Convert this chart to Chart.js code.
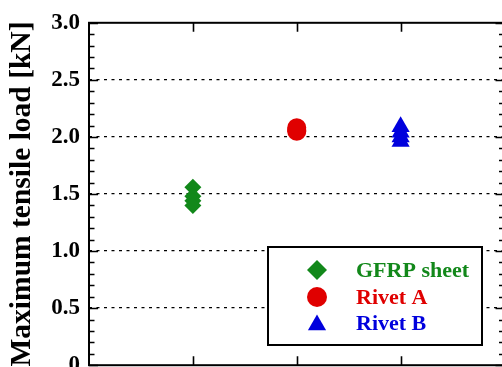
<!DOCTYPE html>
<html>
<head>
<meta charset="utf-8">
<script src="https://cdn.jsdelivr.net/npm/chart.js@4/dist/chart.umd.min.js"></script>
<style>
html,body{margin:0;padding:0;background:#fff;overflow:hidden;}
#wrap{position:absolute;left:0;top:0;width:515px;height:388px;}
</style>
</head>
<body>
<div id="wrap"><canvas id="c" width="515" height="388"></canvas></div>
<script>
// ---- data ----
const categories = ['GFRP sheet', 'Rivet A', 'Rivet B'];
const categoryX = [1, 2, 3];
const gfrpValues = [1.56, 1.48, 1.44, 1.40];
const rivetAValues = [2.08, 2.05, 2.06];
const rivetBValues = [2.09, 2.04, 2.00, 1.96];
const yTickValues = [0, 0.5, 1.0, 1.5, 2.0, 2.5, 3.0];
const yTitle = 'Maximum tensile load [kN]';

const colors = ['#12881a', '#e00000', '#0000dd'];
const styles = ['rectRot', 'circle', 'triangle'];
const radii = [8.5, 9.5, 10.5];
const seriesValues = [gfrpValues, rivetAValues, rivetBValues];

const datasets = categories.map((name, i) => ({
  label: name,
  data: seriesValues[i].map(v => ({x: categoryX[i], y: v})),
  pointStyle: styles[i],
  pointRadius: radii[i],
  backgroundColor: colors[i],
  borderColor: colors[i],
  borderWidth: 0
}));

const SERIF = '"Liberation Serif","Times New Roman",serif';

const framePlugin = {
  id: 'frame',
  afterDatasetsDraw(chart) {
    const {ctx, chartArea: a, scales: {x, y}} = chart;
    ctx.save();
    ctx.strokeStyle = '#000';
    ctx.lineWidth = 2;
    ctx.strokeRect(a.left, a.top, a.right - a.left, a.bottom - a.top);
    ctx.lineWidth = 1.6;
    for (let k = 0; k <= 30; k++) {
      const v = k / 10;
      const py = Math.round(y.getPixelForValue(v)) + 0.5;
      const len = (k % 5 === 0) ? 9 : 5.5;
      ctx.beginPath();
      ctx.moveTo(a.left, py); ctx.lineTo(a.left + len, py);
      ctx.moveTo(a.right, py); ctx.lineTo(a.right - len, py);
      ctx.stroke();
    }
    categoryX.forEach(v => {
      const px = Math.round(x.getPixelForValue(v)) + 0.5;
      ctx.beginPath();
      ctx.moveTo(px, a.top); ctx.lineTo(px, a.top + 9);
      ctx.moveTo(px, a.bottom); ctx.lineTo(px, a.bottom - 9);
      ctx.stroke();
    });
    ctx.restore();
  },
  afterDraw(chart) {
    const {ctx} = chart;
    const bx = 268, by = 247, bw = 214, bh = 98;
    ctx.save();
    ctx.fillStyle = '#fff';
    ctx.fillRect(bx, by, bw, bh);
    ctx.strokeStyle = '#000';
    ctx.lineWidth = 2;
    ctx.strokeRect(bx, by, bw, bh);
    const rowY = [270, 297, 323];
    const legR = [10, 10, 10.5];
    chart.data.datasets.forEach((ds, i) => {
      ctx.fillStyle = ds.backgroundColor;
      ctx.strokeStyle = ds.borderColor;
      Chart.helpers.drawPoint(ctx, {pointStyle: ds.pointStyle, radius: legR[i], borderWidth: 0, rotation: 0},
        317, rowY[i] + (ds.pointStyle === 'triangle' ? 2 : 0));
      ctx.fillStyle = ds.borderColor;
      ctx.font = 'bold 22px ' + SERIF;
      ctx.textBaseline = 'middle';
      ctx.textAlign = 'left';
      ctx.fillText(ds.label, 356, rowY[i] + 1);
    });
    ctx.restore();
  }
};

new Chart(document.getElementById('c'), {
  type: 'scatter',
  data: {datasets},
  options: {
    responsive: false,
    animation: false,
    layout: {padding: {left: 0, top: 21, right: 5, bottom: 15}},
    plugins: {legend: {display: false}, tooltip: {enabled: false}},
    scales: {
      x: {
        type: 'linear', min: 0, max: 4,
        ticks: {display: false},
        grid: {display: false, drawTicks: false},
        border: {display: false},
        afterFit(s) { s.height = 0; }
      },
      y: {
        type: 'linear', min: 0, max: 3,
        afterBuildTicks(s) { s.ticks = yTickValues.map(v => ({value: v})); },
        ticks: {
          color: '#000',
          padding: 9,
          font: {family: SERIF, size: 23, weight: 'bold'},
          callback: v => v === 0 ? '0' : Number(v).toFixed(1)
        },
        grid: {
          drawTicks: false,
          color: ctx => (ctx.tick && (ctx.tick.value === 0 || ctx.tick.value === 3)) ? 'rgba(0,0,0,0)' : '#000',
          lineWidth: 1.3
        },
        border: {display: false, dash: [3, 4.5]},
        title: {
          display: true,
          text: yTitle,
          color: '#000',
          font: {family: SERIF, size: 29.5, weight: 'bold'},
          padding: {top: 5, bottom: 0}
        },
        afterFit(s) { s.width = 89; }
      }
    }
  },
  plugins: [framePlugin]
});
</script>
</body>
</html>
